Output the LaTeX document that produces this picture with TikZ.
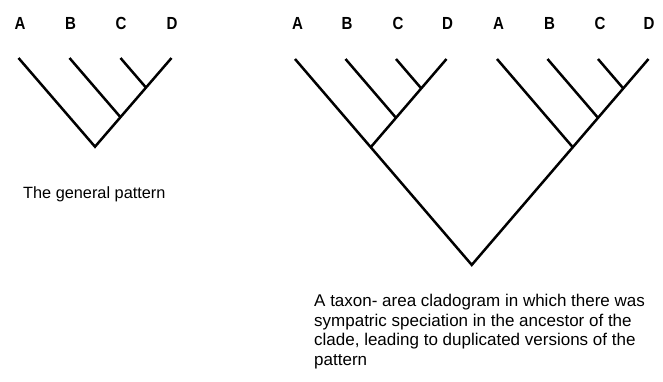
\documentclass[tikz,border=0pt]{standalone}
\usepackage{fontspec}
\setmainfont{Liberation Sans}
\newfontfamily\taxonfont{Liberation Sans Bold}[FakeStretch=0.86]
\begin{document}
\begin{tikzpicture}[x=1pt,y=-1pt,
  branch/.style={line width=2.5pt,line cap=butt,line join=miter},
  taxon/.style={font=\fontsize{17.5}{17.5}\taxonfont,anchor=base,inner sep=0pt},
  caption/.style={inner sep=0pt,align=left}]
\useasboundingbox (0,0) rectangle (663,381);
% ---- small tree ----
\coordinate (sA) at (18.5,58);
\coordinate (sB) at (69.5,58);
\coordinate (sC) at (120.5,58);
\coordinate (sD) at (171.5,58);
\coordinate (sCD) at (146,87.6);
\coordinate (sBCD) at (120.5,117.2);
\coordinate (sR) at (95,146.7);
\draw[branch] (sA) -- (sR) -- (sD);
\draw[branch] (sC) -- (sCD);
\draw[branch] (sB) -- (sBCD);
\node[taxon] (lsA) at (20,29) {A};
\node[taxon] (lsB) at (70.5,29) {B};
\node[taxon] (lsC) at (121,29) {C};
\node[taxon] (lsD) at (172,29) {D};
\node[caption,font=\fontsize{16.3}{19.5}\selectfont,anchor=base west] (cap1) at (23,198) {The general pattern};
% ---- large tree ----
\coordinate (A1) at (295,59);
\coordinate (B1) at (345.5,59);
\coordinate (C1) at (396,59);
\coordinate (D1) at (446.5,59);
\coordinate (A2) at (497,59);
\coordinate (B2) at (547.5,59);
\coordinate (C2) at (598,59);
\coordinate (D2) at (648.5,59);
\coordinate (CD1) at (421.25,88.4);
\coordinate (BCD1) at (396,117.8);
\coordinate (LR) at (370.75,147.2);
\coordinate (CD2) at (623.25,88.4);
\coordinate (BCD2) at (598,117.8);
\coordinate (RR) at (572.75,147.2);
\coordinate (R) at (471.75,264.9);
\draw[branch] (A1) -- (R) -- (D2);
\draw[branch] (D1) -- (LR);
\draw[branch] (C1) -- (CD1);
\draw[branch] (B1) -- (BCD1);
\draw[branch] (A2) -- (RR);
\draw[branch] (B2) -- (BCD2);
\draw[branch] (C2) -- (CD2);
\node[taxon] (lA1) at (297.5,29) {A};
\node[taxon] (lB1) at (347,29) {B};
\node[taxon] (lC1) at (398,29) {C};
\node[taxon] (lD1) at (447.5,29) {D};
\node[taxon] (lA2) at (498.5,29) {A};
\node[taxon] (lB2) at (549.5,29) {B};
\node[taxon] (lC2) at (600,29) {C};
\node[taxon] (lD2) at (649,29) {D};
\node[caption,font=\fontsize{17}{19.5}\selectfont,anchor=north west] (cap2) at (314,294) {A taxon- area cladogram in which there was\\sympatric speciation in the ancestor of the\\clade, leading to duplicated versions of the\\pattern};
\end{tikzpicture}
\end{document}
